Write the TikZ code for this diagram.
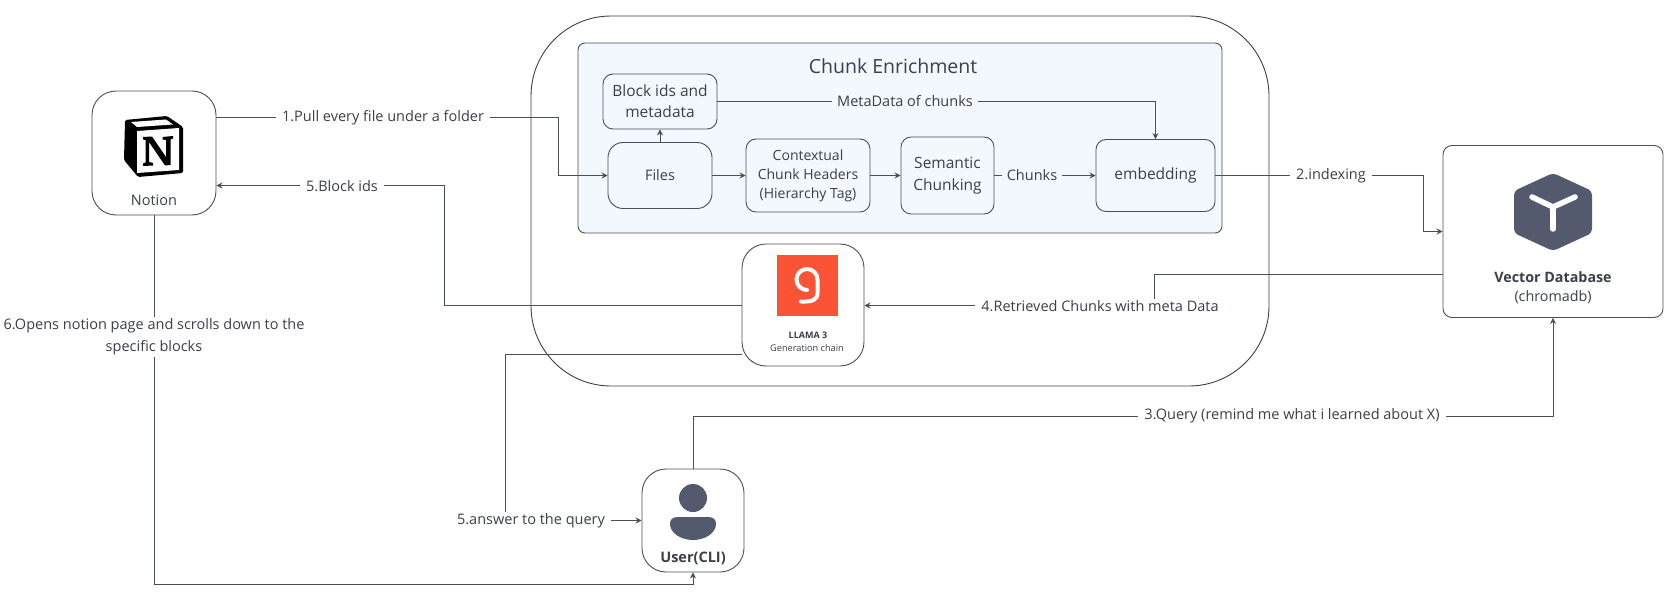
\documentclass[tikz,border=0pt]{standalone}
\usepackage{fontspec}
\setmainfont{Open Sans}
\usetikzlibrary{arrows.meta}
\definecolor{ink}{HTML}{3A3F4A}
\definecolor{wire}{HTML}{4A4F5A}
\definecolor{slate}{HTML}{535A6E}
\definecolor{panel}{HTML}{F3F8FE}
\definecolor{llama}{HTML}{FB5335}
\tikzset{
  boxbase/.style={draw=wire,line width=0.9pt,rectangle,align=center,text=ink,inner sep=0pt},
  inbox/.style={boxbase,fill=panel,font=\fontsize{15.5}{21}\selectfont},
  bigbox/.style={boxbase,fill=white,rounded corners=24pt},
  wirel/.style={draw=wire,line width=0.9pt},
  arr/.style={wirel,-{Stealth[length=6pt,width=6pt]}},
  lab/.style={fill=white,text=ink,inner xsep=6pt,inner ysep=1.5pt,align=center,font=\fontsize{14.5}{22}\selectfont},
  ilab/.style={fill=panel,text=ink,inner xsep=5pt,inner ysep=1.5pt,align=center,font=\fontsize{14.5}{20}\selectfont},
  captext/.style={text=ink,inner sep=0pt,align=center},
}
\begin{document}
\begin{tikzpicture}[x=1pt,y=-1pt]
\useasboundingbox (0,0) rectangle (1676,596);
\node[boxbase,rounded corners=80pt,minimum width=738pt,minimum height=370pt,draw=ink] (outer) at (900,201) {};
\node[boxbase,fill=panel,rounded corners=7pt,minimum width=644pt,minimum height=190pt] (panel) at (900,138) {};
\node[captext,font=\fontsize{19.5}{24}\selectfont] (title) at (893,66) {Chunk Enrichment};
\node[inbox,rounded corners=10pt,minimum width=114pt,minimum height=55pt] (block) at (660,101.5) {Block ids and\\metadata};
\node[inbox,rounded corners=15pt,minimum width=104pt,minimum height=66pt,font=\fontsize{14.5}{20}\selectfont] (files) at (660,175.5) {Files};
\node[inbox,rounded corners=10pt,minimum width=124pt,minimum height=73pt,font=\fontsize{14}{19}\selectfont] (ctx) at (808,175.5) {Contextual\\Chunk Headers\\(Hierarchy Tag)};
\node[inbox,rounded corners=10pt,minimum width=93pt,minimum height=77pt,font=\fontsize{15.5}{22}\selectfont] (sem) at (947.5,175.5) {Semantic\\Chunking};
\node[inbox,rounded corners=10pt,minimum width=119pt,minimum height=72pt] (emb) at (1155.5,175.5) {embedding};
\node[bigbox,minimum width=124pt,minimum height=124pt] (notion) at (154,153) {};
\node[bigbox,minimum width=122pt,minimum height=122pt] (gen) at (803,305) {};
\node[bigbox,rounded corners=9pt,minimum width=220pt,minimum height=172pt] (vdb) at (1553,231.5) {};
\node[bigbox,minimum width=102pt,minimum height=103pt] (user) at (693,520.5) {};
% connectors
\draw[arr] (notion.east |- 0,117.5) -- (558,117.5) -- (558,175.5) -- (files.west);
\draw[arr] (gen.west |- 0,305.5) -- (444,305.5) -- (444,185.5) -- (notion.east |- 0,185.5);
\draw[arr] (notion.south) -- (154,584.5) -- (693,584.5) -- (user.south);
\draw[arr] (emb.east) -- (1423,175.5) -- (1423,231.5) -- (vdb.west);
\draw[arr] (vdb.west |- 0,274.5) -- (1154,274.5) -- (1154,305.5) -- (gen.east |- 0,305.5);
\draw[arr] (user.north) -- (693,416.5) -- (1553,416.5) -- (vdb.south);
\draw[arr] (gen.west |- 0,354.5) -- (505,354.5) -- (505,520.5) -- (user.west);
\draw[arr] (files.north) -- (block.south);
\draw[arr] (block.east) -- (1155.5,101.5) -- (emb.north);
\draw[arr] (files.east) -- (ctx.west |- files.east);
\draw[arr] (ctx.east) -- (sem.west);
\draw[arr] (sem.east) -- (emb.west |- sem.east);
% labels
\node[lab] (l1) at (383,118) {1.Pull every file under a folder};
\node[lab] (l5) at (342,186) {5.Block ids};
\node[lab] (l6) at (154,337) {6.Opens notion page and scrolls down to the\\specific blocks};
\node[lab] (l2) at (1331,176) {2.indexing};
\node[lab] (l4) at (1100,306) {4.Retrieved Chunks with meta Data};
\node[lab] (l3) at (1292,416) {3.Query (remind me what i learned about X)};
\node[lab] (l7) at (531,521) {5.answer to the query};
\node[ilab] (l8) at (905,101.5) {MetaData of chunks};
\node[ilab] (l9) at (1032,175.5) {Chunks};
% notion logo
\fill[black,rounded corners=1.5pt] (125,120) -- (167,116) -- (183,127) -- (183,173) -- (138,177) -- (124,160) -- cycle;
\fill[white] (131,122) -- (166,119.5) -- (173,124.5) -- (137,127) -- cycle;
\fill[white] (137,131) -- (179,128) -- (179,170) -- (137,173) -- cycle;
\fill[black] (143,137) -- (152,136.5) -- (166,157) -- (166,140) -- (162.5,139.5) -- (162.5,137) -- (173,136) -- (173,138.5) -- (170.5,139.5) -- (170.5,165) -- (165,165.5) -- (149,142) -- (149,162) -- (153,163) -- (153,165.5) -- (143,166) -- (143,163.5) -- (145.5,162.5) -- (145.5,140) -- (143,139.5) -- cycle;
\node[captext,font=\fontsize{14.5}{18}\selectfont] (nlab) at (154,200) {Notion};
% llama logo
\fill[llama] (777,255) rectangle (838,316);
\draw[white,line width=4pt,line cap=round] (807,290) arc[start angle=-270,end angle=0,radius=10.5] -- (817.5,293) .. controls (817.5,300) and (812,302) .. (801,301.5);
\node[captext,font=\bfseries\fontsize{9}{11}\selectfont] (glab) at (808,335) {LLAMA 3};
\node[captext,font=\fontsize{9.2}{11}\selectfont] (glab2) at (807,348) {Generation chain};
% vector db logo
\fill[slate,rounded corners=4pt] (1553,173) -- (1592,191) -- (1592,233) -- (1553,251) -- (1514,233) -- (1514,191) -- cycle;
\draw[white,line width=5.5pt,line cap=round,line join=round] (1532,197) -- (1553,207) -- (1575,197);
\draw[white,line width=5.5pt,line cap=round] (1553,207) -- (1553,229);
\node[captext,font=\bfseries\fontsize{14.3}{18}\selectfont] (vlab) at (1553,277) {Vector Database};
\node[captext,font=\fontsize{14.3}{18}\selectfont] (vlab2) at (1553,297) {(chromadb)};
% user logo
\fill[slate] (693,498) circle[radius=14];
\fill[slate] (678,517) -- (708,517) .. controls (714,517) and (716,520) .. (716,524) .. controls (716,533) and (705,540) .. (693,540) .. controls (681,540) and (670,533) .. (670,524) .. controls (670,520) and (672,517) .. (678,517) -- cycle;
\node[captext,font=\bfseries\fontsize{14.5}{18}\selectfont] (ulab) at (693,558) {User(CLI)};
\end{tikzpicture}
\end{document}
